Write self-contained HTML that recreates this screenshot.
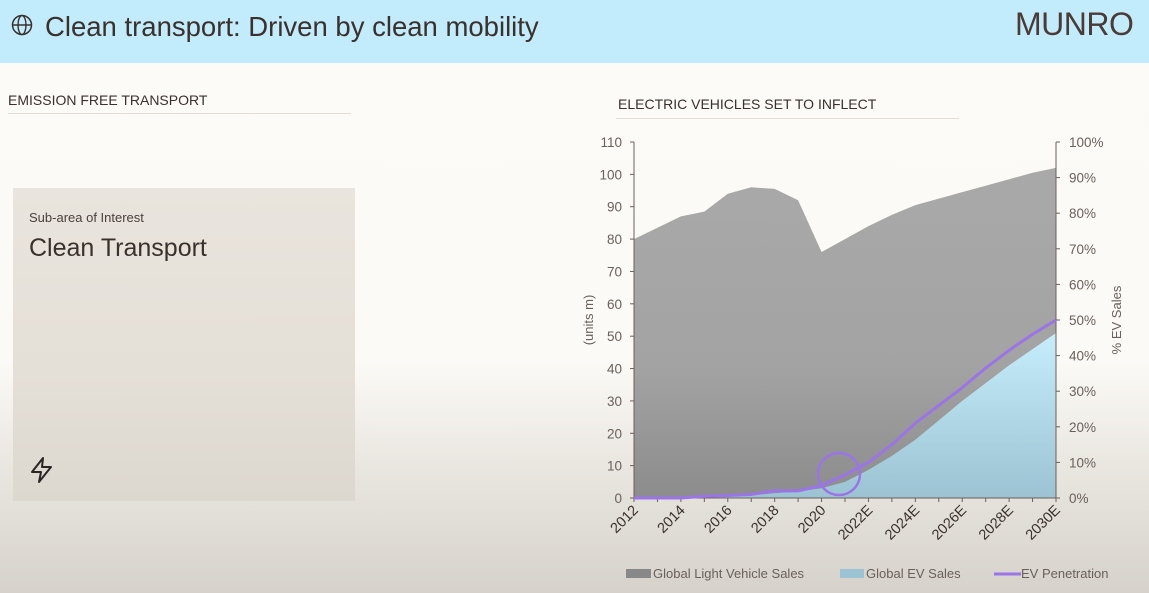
<!DOCTYPE html>
<html><head><meta charset="utf-8"><style>
html,body{margin:0;padding:0;}
body{width:1149px;height:593px;position:relative;overflow:hidden;font-family:"Liberation Sans",sans-serif;
background:linear-gradient(to bottom,#fdfbf7 0px,#fcfaf6 360px,#e9e6e0 470px,#d6d2cb 593px);}
#hdr{position:absolute;left:0;top:0;width:1149px;height:63px;background:#c2ebfb;}
#title{position:absolute;left:45px;top:11px;font-size:27.5px;color:#3a302c;}
#logo{position:absolute;left:1015px;top:6px;font-size:32px;color:#4a3b36;letter-spacing:-0.5px;}
.sec{position:absolute;font-size:14px;color:#3a302c;}
.rule{position:absolute;height:1px;background:#e2ddd7;}
#box{position:absolute;left:13px;top:188px;width:342px;height:313px;background:linear-gradient(#e9e4dd,#e4dfd7 60%,#dcd7cf);}
</style></head><body>
<div id="hdr"></div>
<svg style="position:absolute;left:11px;top:14px" width="24" height="24"><circle cx="11" cy="11" r="9.5" fill="none" stroke="#3a302c" stroke-width="1.5"/><ellipse cx="11" cy="11" rx="4" ry="9.5" fill="none" stroke="#3a302c" stroke-width="1.4"/><line x1="1.5" y1="11" x2="20.5" y2="11" stroke="#3a302c" stroke-width="1.4"/></svg>
<div id="title">Clean transport: Driven by clean mobility</div>
<div id="logo">MUNRO</div>
<div class="sec" style="left:8px;top:92px">EMISSION FREE TRANSPORT</div>
<div class="rule" style="left:8px;top:113px;width:343px"></div>
<div class="sec" style="left:618px;top:96px">ELECTRIC VEHICLES SET TO INFLECT</div>
<div class="rule" style="left:616px;top:118px;width:343px"></div>
<div id="box">
 <div style="position:absolute;left:16px;top:22px;font-size:13px;color:#4a403b">Sub-area of Interest</div>
 <div style="position:absolute;left:16px;top:46px;font-size:25px;color:#3a302c">Clean Transport</div>
 <svg style="position:absolute;left:16px;top:268px" width="26" height="28"><path d="M14 2 L3 16 L12 16 L10 26 L22 11 L13 11 Z" fill="none" stroke="#2a2522" stroke-width="2" stroke-linejoin="round"/></svg>
</div>
<svg id="chart" style="position:absolute;left:0;top:0" width="1149" height="593">
<defs>
<linearGradient id="gG" x1="0" y1="0" x2="0" y2="1"><stop offset="0" stop-color="#a9a9a9"/><stop offset="0.6" stop-color="#a3a3a3"/><stop offset="1" stop-color="#8c8c8c"/></linearGradient>
<linearGradient id="gB" x1="0" y1="0" x2="0" y2="1"><stop offset="0" stop-color="#c6edfb"/><stop offset="1" stop-color="#9cc3d3"/></linearGradient>
</defs>
</svg>
<script>
const years=["2012","2013","2014","2015","2016","2017","2018","2019","2020","2021","2022E","2023E","2024E","2025E","2026E","2027E","2028E","2029E","2030E"];
const lightVehicleSales=[80,83.5,87,88.5,94,96,95.5,92,76,80,84,87.5,90.5,92.5,94.5,96.5,98.5,100.5,102];
const evSales=[0,0,0,0.3,0.5,0.8,1.5,2,3,5,8.7,13,18,24,30,35.5,41,46,51];
const evPenetration=[0,0,0,0.5,0.7,1,2,2,3.5,6.5,10,15,21,26,31,36.5,41.5,46,50];
const leftTicks=[0,10,20,30,40,50,60,70,80,90,100,110];
const rightTicks=[0,10,20,30,40,50,60,70,80,90,100];
const svg=document.getElementById('chart');
const NS='http://www.w3.org/2000/svg';
const X0=634,X1=1056,Y0=498,Y1=142;
const x=i=>X0+(X1-X0)*i/(years.length-1);
const y=v=>Y0-(Y0-Y1)*v/110;
const yp=p=>Y0-(Y0-Y1)*p/100;
function mk(t,a){const e=document.createElementNS(NS,t);for(const k in a)e.setAttribute(k,a[k]);svg.appendChild(e);return e;}
function area(arr){let d='M'+x(0)+','+Y0;arr.forEach((v,i)=>d+=' L'+x(i)+','+y(v));return d+' L'+x(arr.length-1)+','+Y0+' Z';}
let e=mk('path',{d:area(lightVehicleSales),fill:'url(#gG)'});


e=mk('path',{d:area(evSales),fill:'url(#gB)'});


e=mk('line',{x1:X0,y1:Y1,x2:X0,y2:Y0,stroke:'#6b5f5a','stroke-width':1});


e=mk('line',{x1:X1,y1:Y1,x2:X1,y2:Y0,stroke:'#6b5f5a','stroke-width':1});


e=mk('line',{x1:X0,y1:Y0,x2:X1,y2:Y0,stroke:'#6b5f5a','stroke-width':1});


leftTicks.forEach(v=>{
 mk('line',{x1:X0-4,y1:y(v),x2:X0,y2:y(v),stroke:'#6b5f5a'});
 const t=mk('text',{x:X0-12,y:y(v)+5,'text-anchor':'end','font-size':13.5,fill:'#6a605b'});t.textContent=v;
 
 
});
rightTicks.forEach(v=>{
 mk('line',{x1:X1,y1:yp(v),x2:X1+4,y2:yp(v),stroke:'#6b5f5a'});
 const t=mk('text',{x:X1+13,y:yp(v)+5,'font-size':13.5,fill:'#6a605b'});t.textContent=v+'%';
 
 
});
years.forEach((yr,i)=>{
 mk('line',{x1:x(i),y1:Y0,x2:x(i),y2:Y0+4,stroke:'#6b5f5a'});
 if(i%2==0){const t=mk('text',{x:x(i)+5,y:Y0+13,'text-anchor':'end','font-size':14.5,fill:'#3a302c',transform:'rotate(-45 '+(x(i)+5)+' '+(Y0+13)+')'});t.textContent=yr;
 
 }
});
let pd='';evPenetration.forEach((p,i)=>pd+=(i?' L':'M')+x(i)+','+yp(p));
e=mk('path',{d:pd,fill:'none',stroke:'#9b74e8','stroke-width':3,'stroke-linejoin':'round'});


e=mk('ellipse',{cx:839,cy:474,rx:21,ry:21,fill:'none',stroke:'#9b74e8','stroke-width':2.5});


let t=mk('text',{x:0,y:0,'font-size':13,fill:'#6a605b','text-anchor':'middle',transform:'translate(593,320) rotate(-90)'});t.textContent='(units m)';


t=mk('text',{x:0,y:0,'font-size':13,fill:'#6a605b','text-anchor':'middle',transform:'translate(1121,320) rotate(-90)'});t.textContent='% EV Sales';


e=mk('rect',{x:626,y:569,width:25,height:9,fill:'#888'});


t=mk('text',{x:653,y:578,'font-size':13,fill:'#6a605b'});t.textContent='Global Light Vehicle Sales';


e=mk('rect',{x:840,y:569,width:24,height:9,fill:'#9cc3d3'});


t=mk('text',{x:866,y:578,'font-size':13,fill:'#6a605b'});t.textContent='Global EV Sales';


e=mk('line',{x1:994,y1:574,x2:1021,y2:574,stroke:'#9b74e8','stroke-width':3});


t=mk('text',{x:1021,y:578,'font-size':13,fill:'#6a605b'});t.textContent='EV Penetration';


</script>
</body></html>
